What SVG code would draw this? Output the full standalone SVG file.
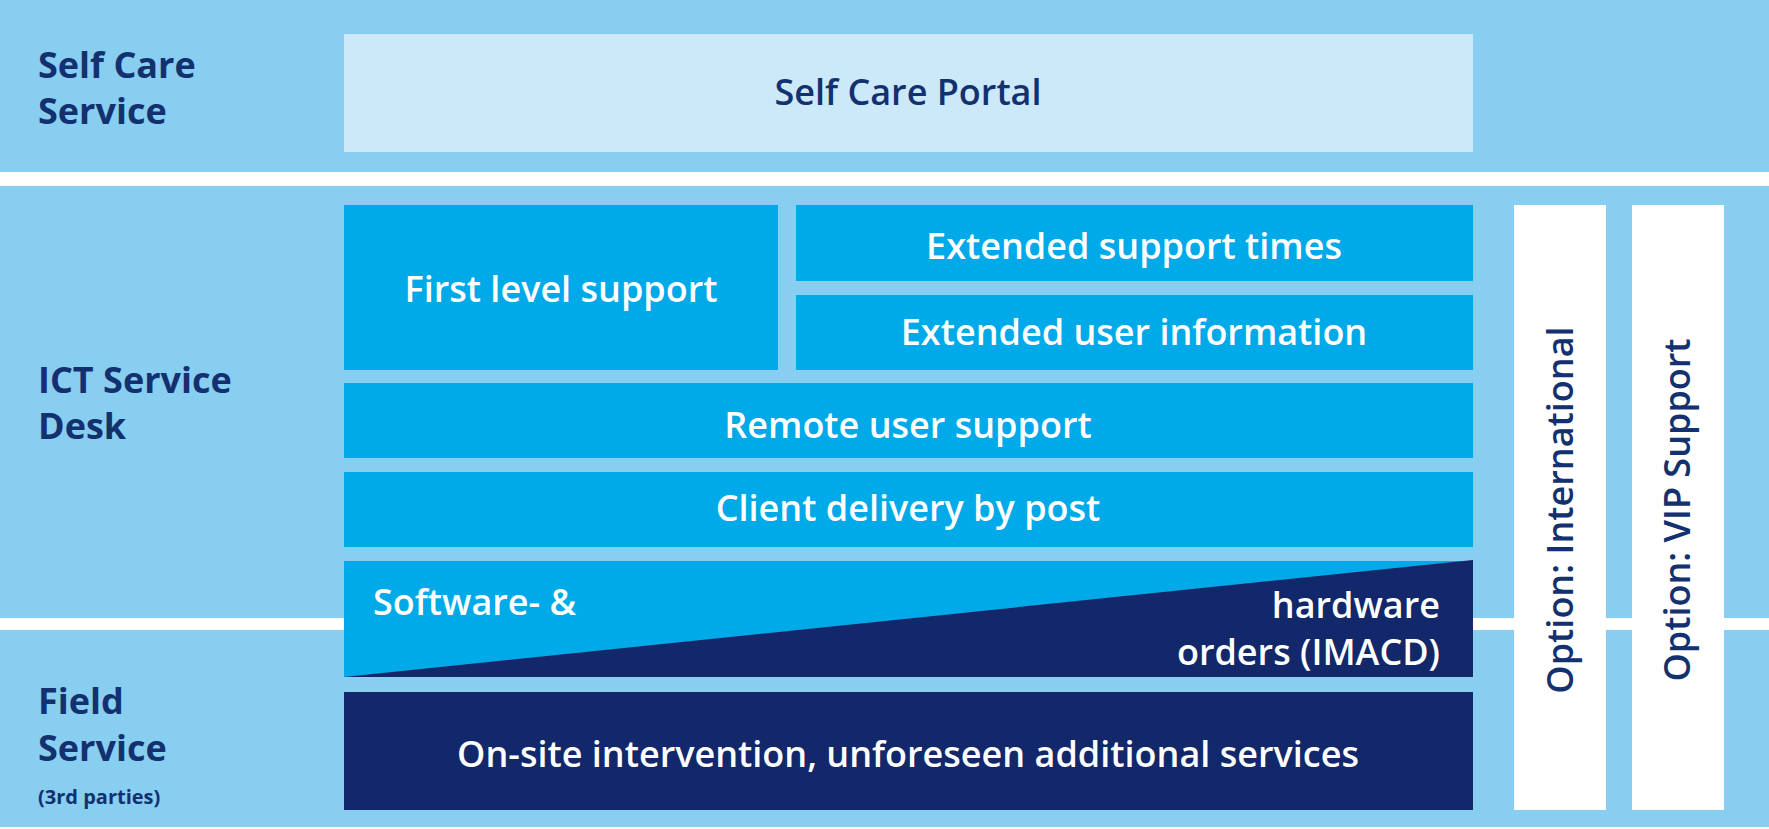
<svg xmlns="http://www.w3.org/2000/svg" width="1769" height="829" viewBox="0 0 1769 829">
<style>
.bg{fill:#87CEF1}.mid{fill:#00A9E8}.dark{fill:#12286A}
.lab{font-family:"Open Sans","Noto Sans",sans-serif;font-weight:700;fill:#13306F;font-size:36px}
.w{font-family:"Open Sans","Noto Sans",sans-serif;font-weight:600;fill:#fff;font-size:36px;text-anchor:middle}
.d{font-family:"Open Sans","Noto Sans",sans-serif;font-weight:600;fill:#13306F;font-size:36px;text-anchor:middle}
</style>
<rect width="1769" height="829" fill="#fff"/>
<rect class="bg" x="0" y="0" width="1769" height="172"/>
<rect class="bg" x="0" y="186" width="1769" height="432"/>
<rect class="bg" x="0" y="630" width="1769" height="197"/>
<g id="labels">
<text class="lab" x="38" y="78">Self Care</text>
<text class="lab" x="38" y="124">Service</text>
<text class="lab" x="38" y="393">ICT Service</text>
<text class="lab" x="38" y="439">Desk</text>
<text class="lab" x="38" y="714">Field</text>
<text class="lab" x="38" y="761">Service</text>
<text class="lab" x="38" y="804" style="font-size:20px">(3rd parties)</text>
</g>
<g id="portal"><rect x="344" y="34" width="1129" height="118" fill="#CCE9F9"/><text class="d" x="908" y="105">Self Care Portal</text></g>
<g id="first"><rect class="mid" x="344" y="205" width="434" height="165"/><text class="w" x="561" y="302">First level support</text></g>
<g id="ext-times"><rect class="mid" x="796" y="205" width="677" height="76"/><text class="w" x="1134" y="259">Extended support times</text></g>
<g id="ext-info"><rect class="mid" x="796" y="295" width="677" height="75"/><text class="w" x="1134" y="345">Extended user information</text></g>
<g id="remote"><rect class="mid" x="344" y="383" width="1129" height="75"/><text class="w" x="908" y="438">Remote user support</text></g>
<g id="client"><rect class="mid" x="344" y="472" width="1129" height="75"/><text class="w" x="908" y="521">Client delivery by post</text></g>
<g id="orders">
<rect class="mid" x="344" y="561" width="1129" height="116"/>
<polygon class="dark" points="1473,560 1473,677 344,677"/>
<text class="w" x="373" y="615" style="text-anchor:start">Software- &amp;</text>
<text class="w" x="1440" y="618" style="text-anchor:end">hardware</text>
<text class="w" x="1440" y="665" style="text-anchor:end">orders (IMACD)</text>
</g>
<g id="onsite"><rect class="dark" x="344" y="692" width="1129" height="118"/><text class="w" x="908" y="767">On-site intervention, unforeseen additional services</text></g>
<g id="intl"><rect x="1514" y="205" width="92" height="605" fill="#fff"/><text class="d" transform="translate(1573,510) rotate(-90)">Option: International</text></g>
<g id="vip"><rect x="1632" y="205" width="92" height="605" fill="#fff"/><text class="d" transform="translate(1690,510) rotate(-90)">Option: VIP Support</text></g>
<g id="connectors"/>
</svg>
